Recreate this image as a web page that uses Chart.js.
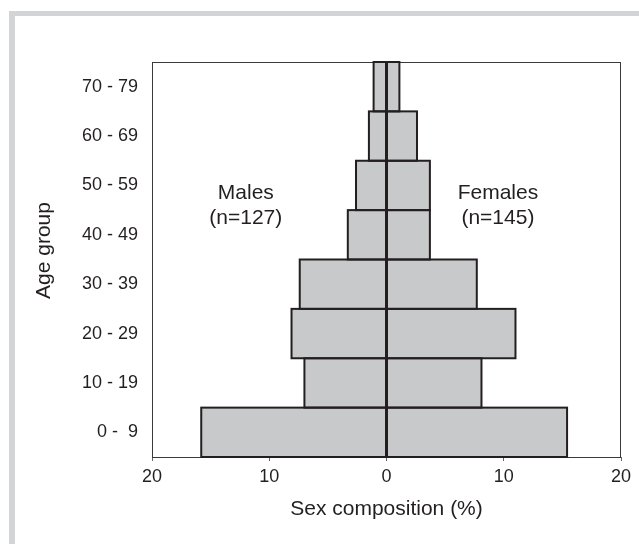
<html>
<head>
<meta charset="UTF-8">
<title>Sex composition by age group</title>
<style>
body {
    margin: 0;
    background: white;
    overflow: hidden;
}
div.frame {
    position: absolute;
    left: 9px;
    top: 11px;
    width: 700px;
    height: 600px;
    border-left: 6px solid #d3d4d6;
    border-top: 5px solid #d3d4d6;
}
div.chart {
    position: absolute;
    left: 0;
    top: 0;
    width: 639px;
    height: 544px;
}
</style>
<script src="https://cdn.jsdelivr.net/npm/chart.js@4/dist/chart.umd.min.js"></script>
</head>
<body>
<div class="frame"></div>
<div class="chart"><canvas id="canvas"></canvas></div>
</body>
<script>
// percent of all subjects (n=272) in each age group
const ageGroups = ["0 -  9", "10 - 19", "20 - 29", "30 - 39", "40 - 49", "50 - 59", "60 - 69", "70 - 79"]
const males = [15.8, 7.0, 8.1, 7.4, 3.3, 2.6, 1.5, 1.1]
const females = [15.4, 8.1, 11.0, 7.7, 3.7, 3.7, 2.6, 1.1]
const xTicks = [-20, -10, 0, 10, 20]
const maleLabel = ["Males", "(n=127)"]
const femaleLabel = ["Females", "(n=145)"]

const INK = "#231f20"
const FILL = "#c8c9cb"
const FONT = "'Liberation Sans', Arial, Helvetica, sans-serif"
Chart.defaults.font.family = FONT
Chart.defaults.color = INK

const decor = {
    id: "decor",
    afterDatasetsDraw(chart) {
        const ctx = chart.ctx
        const a = chart.chartArea
        ctx.save()
        // plot box
        ctx.strokeStyle = "#3a3a3a"
        ctx.lineWidth = 1
        ctx.strokeRect(a.left + 0.5, a.top + 0.5, a.width - 1, a.height)
        // bar outlines, centred on the edges
        ctx.strokeStyle = INK
        ctx.lineWidth = 2
        chart.data.datasets.forEach((ds, i) => {
            chart.getDatasetMeta(i).data.forEach(bar => {
                const p = bar.getProps(["x", "y", "base", "height"], true)
                ctx.strokeRect(Math.min(p.x, p.base), p.y - p.height / 2, Math.abs(p.x - p.base), p.height)
            })
        })
        // group labels, between 40-49 and 50-59
        const xs = chart.scales.x, ys = chart.scales.y
        const yMid = (ys.getPixelForValue(4) + ys.getPixelForValue(5)) / 2
        ctx.fillStyle = INK
        ctx.font = "21px " + FONT
        ctx.textAlign = "center"
        ctx.textBaseline = "middle"
        ctx.fillText(maleLabel[0], xs.getPixelForValue(-12), yMid - 17)
        ctx.fillText(maleLabel[1], xs.getPixelForValue(-12), yMid + 8)
        ctx.fillText(femaleLabel[0], xs.getPixelForValue(9.5), yMid - 17)
        ctx.fillText(femaleLabel[1], xs.getPixelForValue(9.5), yMid + 8)
        // y axis title
        ctx.translate(44, (a.top + a.bottom) / 2 - 9)
        ctx.rotate(-Math.PI / 2)
        ctx.fillText("Age group", 0, 0)
        ctx.restore()
    }
}

const ctx = document.getElementById("canvas").getContext("2d")
const chart = new Chart(ctx, {
    type: "bar",
    data: {
        labels: ageGroups,
        datasets: [
            {label: "Males", data: males.map(v => -v), backgroundColor: FILL, borderWidth: 0},
            {label: "Females", data: females, backgroundColor: FILL, borderWidth: 0},
        ],
    },
    options: {
        indexAxis: "y",
        responsive: true,
        maintainAspectRatio: false,
        animation: false,
        layout: {padding: {top: 62, right: 18, left: 0, bottom: 0}},
        barPercentage: 1,
        categoryPercentage: 1,
        plugins: {
            legend: {display: false},
            tooltip: {enabled: false},
        },
        scales: {
            x: {
                stacked: true,
                min: -20,
                max: 20,
                afterBuildTicks: (scale) => { scale.ticks = xTicks.map(v => ({value: v})) },
                ticks: {
                    font: {size: 18},
                    color: INK,
                    padding: 5,
                    maxRotation: 0,
                    callback: (value) => Math.abs(value),
                },
                grid: {drawOnChartArea: false, tickLength: 4, color: "#666", lineWidth: 1},
                border: {display: false},
                title: {display: true, text: "Sex composition (%)", font: {size: 21}, color: INK, padding: {top: 0, bottom: 22}},
                afterFit: (scale) => { scale.height = 87 },
            },
            y: {
                stacked: true,
                reverse: true,
                ticks: {font: {size: 18}, color: INK, padding: 6},
                grid: {display: false},
                border: {display: false},
                afterFit: (scale) => { scale.width = 152 },
            },
        },
    },
    plugins: [decor],
})
</script>
</html>
